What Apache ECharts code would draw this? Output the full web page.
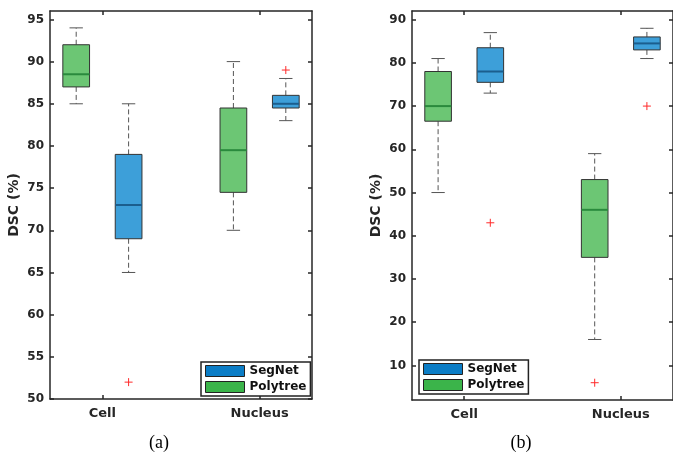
<!DOCTYPE html>
<html>
<head>
<meta charset="utf-8">
<script src="https://cdn.jsdelivr.net/npm/echarts@6/dist/echarts.min.js"></script>
<style>html,body{margin:0;padding:0;background:#fff}#c{width:673px;height:452px}</style>
</head>
<body>
<div id="c"></div>
<script>
// ---- data ----
const groups = ['Cell', 'Nucleus'];
const legendNames = ['SegNet', 'Polytree'];
// box stats per group: [min, Q1, median, Q3, max]
const aPolytree = [[85, 87, 88.5, 92, 94], [70, 74.5, 79.5, 84.5, 90]];
const aSegNet   = [[65, 69, 73, 79, 85],   [83, 84.5, 85, 86, 88]];
const aPolytreeOut = [[], []];
const aSegNetOut   = [[52], [89]];
const bPolytree = [[50, 66.5, 70, 78, 81], [16, 35, 46, 53, 59]];
const bSegNet   = [[73, 75.5, 78, 83.5, 87], [81, 83, 84.5, 86, 88]];
const bPolytreeOut = [[], [6]];
const bSegNetOut   = [[43], [70]];
const aYTicks = [50, 55, 60, 65, 70, 75, 80, 85, 90, 95];
const bYTicks = [10, 20, 30, 40, 50, 60, 70, 80, 90];
const captions = ['(a)', '(b)'];

// ---- layout ----
const groupPos = [1, 4];
const offs = {Polytree: -0.5, SegNet: 0.5};
const boxW = 0.51;
const col = {
  SegNet: {legend: '#0b7dc6', fill: '#3d9fd9', median: '#1b5e8e'},
  Polytree: {legend: '#3bb44a', fill: '#6cc674', median: '#2a8a3d'}
};
const axisCol = '#262626';

function boxData(stats, off) {
  return stats.map((s, i) => [groupPos[i] + off].concat(s));
}
function outData(outs, off) {
  const r = [];
  outs.forEach((arr, i) => arr.forEach(v => r.push([groupPos[i] + off, v])));
  return r;
}
function renderBox(fill, medianColor) {
  return function (params, api) {
    const x = api.value(0);
    const p = [1, 2, 3, 4, 5].map(k => api.coord([x, api.value(k)]));
    const w = api.size([boxW, 0])[0];
    const cw = w * 0.5;
    const cx = p[0][0];
    const wh = {stroke: '#555', lineWidth: 1, lineDash: [5, 3]};
    const cap = {stroke: '#555', lineWidth: 1};
    return {
      type: 'group', children: [
        {type: 'line', shape: {x1: cx, y1: p[3][1], x2: cx, y2: p[4][1]}, style: wh},
        {type: 'line', shape: {x1: cx, y1: p[1][1], x2: cx, y2: p[0][1]}, style: wh},
        {type: 'line', shape: {x1: cx - cw / 2, y1: p[4][1], x2: cx + cw / 2, y2: p[4][1]}, style: cap},
        {type: 'line', shape: {x1: cx - cw / 2, y1: p[0][1], x2: cx + cw / 2, y2: p[0][1]}, style: cap},
        {type: 'rect', shape: {x: cx - w / 2, y: p[3][1], width: w, height: p[1][1] - p[3][1]},
          style: {fill: fill, stroke: '#333', lineWidth: 1}},
        {type: 'line', shape: {x1: cx - w / 2, y1: p[2][1], x2: cx + w / 2, y2: p[2][1]},
          style: {stroke: medianColor, lineWidth: 2}}
      ]
    };
  };
}
function renderOut(params, api) {
  const c = api.coord([api.value(0), api.value(1)]);
  const s = 4;
  const st = {stroke: '#ff2a2a', lineWidth: 1};
  return {type: 'group', children: [
    {type: 'line', shape: {x1: c[0] - s, y1: c[1], x2: c[0] + s, y2: c[1]}, style: st},
    {type: 'line', shape: {x1: c[0], y1: c[1] - s, x2: c[0], y2: c[1] + s}, style: st}
  ]};
}

const panels = [
  {poly: aPolytree, seg: aSegNet, polyOut: aPolytreeOut, segOut: aSegNetOut, yMin: 50, yMax: 96, ticks: aYTicks,
   grid: {left: 50, top: 11, width: 262, height: 388}, legend: {left: 201, top: 362}, cap: 159},
  {poly: bPolytree, seg: bSegNet, polyOut: bPolytreeOut, segOut: bSegNetOut, yMin: 2, yMax: 92, ticks: bYTicks,
   grid: {left: 412, top: 11, width: 262, height: 389}, legend: {left: 419, top: 360}, cap: 521}
];

const option = {animation: false, grid: [], xAxis: [], yAxis: [], series: [], legend: [], graphic: []};
panels.forEach((P, gi) => {
  option.grid.push(Object.assign({containLabel: false}, P.grid));
  const line = {show: true, onZero: false, lineStyle: {color: axisCol, width: 1.5}};
  const xLabel = {
    customValues: groupPos, margin: 8, color: axisCol, fontWeight: 'bold', fontSize: 13,
    fontFamily: 'DejaVu Sans', formatter: v => groups[groupPos.indexOf(v)] || ''
  };
  option.xAxis.push({type: 'value', gridIndex: gi, min: 0, max: 5, position: 'bottom', axisLine: line,
    axisTick: {inside: true, length: 4, customValues: groupPos, lineStyle: {color: axisCol, width: 1.5}},
    axisLabel: xLabel, splitLine: {show: false}});
  option.xAxis.push({type: 'value', gridIndex: gi, min: 0, max: 5, position: 'top', axisLine: line,
    axisTick: {inside: true, length: 4, customValues: groupPos, lineStyle: {color: axisCol, width: 1.5}},
    axisLabel: {show: false}, splitLine: {show: false}});
  option.yAxis.push({type: 'value', gridIndex: gi, min: P.yMin, max: P.yMax, position: 'left', axisLine: line,
    name: 'DSC (%)', nameLocation: 'middle', nameRotate: 90, nameGap: 29,
    nameTextStyle: {color: axisCol, fontWeight: 'bold', fontSize: 14, fontFamily: 'DejaVu Sans'},
    axisTick: {inside: true, length: 4, customValues: P.ticks, lineStyle: {color: axisCol, width: 1.5}},
    axisLabel: {customValues: P.ticks, margin: 6, color: axisCol, fontWeight: 'bold', fontSize: 12, fontFamily: 'DejaVu Sans'},
    splitLine: {show: false}});
  option.yAxis.push({type: 'value', gridIndex: gi, min: P.yMin, max: P.yMax, position: 'right', axisLine: line,
    axisTick: {inside: true, length: 4, customValues: P.ticks, lineStyle: {color: axisCol, width: 1.5}},
    axisLabel: {show: false}, splitLine: {show: false}});
  const xi = gi * 2, yi = gi * 2;
  [['Polytree', P.poly, P.polyOut], ['SegNet', P.seg, P.segOut]].forEach(([name, stats, outs]) => {
    option.series.push({type: 'custom', name: name, xAxisIndex: xi, yAxisIndex: yi,
      itemStyle: {color: col[name].legend},
      encode: {x: 0, y: [1, 2, 3, 4, 5]},
      renderItem: renderBox(col[name].fill, col[name].median), data: boxData(stats, offs[name])});
    option.series.push({type: 'custom', name: name + ' outliers', xAxisIndex: xi, yAxisIndex: yi,
      encode: {x: 0, y: 1}, renderItem: renderOut, data: outData(outs, offs[name]), z: 5});
  });
  option.legend.push({
    data: legendNames, left: P.legend.left, top: P.legend.top, orient: 'vertical',
    backgroundColor: '#fff', borderColor: '#222', borderWidth: 1.5, borderRadius: 0,
    padding: [3, 4, 3, 4], itemGap: 4, itemWidth: 39, itemHeight: 11, icon: 'rect',
    itemStyle: {borderColor: '#222', borderWidth: 1},
    textStyle: {color: '#111', fontWeight: 'bold', fontSize: 12, fontFamily: 'DejaVu Sans', lineHeight: 12},
    selectedMode: false
  });
  option.graphic.push({type: 'text', x: P.cap, y: 443,
    style: {text: captions[gi], font: '18px "Liberation Serif"', fill: '#000', align: 'center', verticalAlign: 'middle'}});
});

const chart = echarts.init(document.getElementById('c'), null, {renderer: 'canvas'});
chart.setOption(option);
</script>
</body>
</html>
